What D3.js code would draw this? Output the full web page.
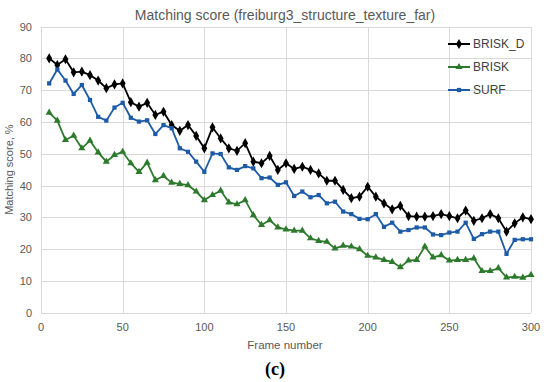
<!DOCTYPE html>
<html>
<head>
	<title>Matching score</title>
	<style type="text/css">

body {
	margin:0;
	background:#fff;
}

text {
	font-family: "Liberation Sans", Arial, sans-serif;
}

.grid line {
	stroke:#d9d9d9;
	stroke-width:1px;
	shape-rendering:crispEdges;
}

.tick-label {
	fill:#595959;
	font-size:11px;
}

.series path.line {
	fill:none;
	stroke-width:1.8px;
}

.legend text {
	fill:#404040;
	font-size:12px;
}

	</style>
</head>
<body>

<div id="chart"></div>

<script type="text/javascript" src="https://cdn.jsdelivr.net/npm/d3@7"></script>
<script type="text/javascript">

var frames = [5,10,15,20,25,30,35,40,45,50,55,60,65,70,75,80,85,90,95,100,
	105,110,115,120,125,130,135,140,145,150,155,160,165,170,175,180,185,190,195,200,
	205,210,215,220,225,230,235,240,245,250,255,260,265,270,275,280,285,290,295,300];

var brisk_d = [80.0,77.9,79.7,75.6,75.8,74.7,73.0,70.6,71.8,72.1,
	66.2,64.8,66.0,62.2,63.2,59.0,57.2,59.0,55.6,51.7,
	58.3,54.8,51.7,50.9,53.3,47.5,47.0,49.3,44.9,47.0,
	45.2,45.9,44.9,43.8,41.5,41.5,38.6,36.0,36.5,39.6,
	36.5,34.4,32.5,33.6,30.4,30.2,30.2,30.4,31.0,30.4,
	29.7,32.1,28.9,29.7,31.0,29.7,25.5,28.1,30.0,29.4];

var brisk = [62.9,60.4,54.3,55.7,51.7,54.1,50.4,47.5,49.6,50.6,
	47.0,44.3,47.2,41.7,43.0,40.9,40.5,40.1,38.1,35.4,
	37.0,38.4,34.7,34.1,35.4,30.7,27.6,29.1,26.8,26.2,
	25.8,25.8,23.4,22.6,22.3,20.2,21.1,20.8,20.0,17.9,
	17.4,16.6,16.0,14.3,16.4,16.6,20.8,17.4,18.1,16.4,
	16.6,16.6,17.1,13.1,13.1,14.0,11.1,11.3,11.0,11.9];

var surf = [72.1,76.5,73.0,68.8,71.6,66.9,61.6,60.4,64.5,66.0,
	61.3,60.1,60.5,56.2,59.0,58.0,51.7,50.6,47.5,44.3,
	50.1,49.9,45.7,44.9,46.1,45.4,42.3,42.5,40.2,41.0,
	36.7,38.1,36.3,37.0,34.4,34.9,31.8,31.0,29.5,29.4,
	31.0,27.0,28.3,25.5,26.0,26.8,26.8,24.6,24.4,25.2,
	25.5,28.3,23.2,24.7,25.5,25.5,18.5,22.9,23.1,23.1];

var x_ticks = [0,50,100,150,200,250,300];
var y_ticks = [0,10,20,30,40,50,60,70,80,90];

var series = [
	{name:"BRISK_D", values:brisk_d, color:"#000000", symbol:d3.symbolDiamond, size:30},
	{name:"BRISK", values:brisk, color:"#2d7a2d", symbol:d3.symbolTriangle, size:22},
	{name:"SURF", values:surf, color:"#1d5ba6", symbol:d3.symbolSquare, size:18}
];

var width = 550, height = 382;
var plot = {left:41, right:531, top:26.5, bottom:312.7};

var svg = d3.select("#chart").append("svg")
	.attr("width",width)
	.attr("height",height);

var x = d3.scaleLinear().domain([0,300]).range([plot.left,plot.right]);
var y = d3.scaleLinear().domain([0,90]).range([plot.bottom,plot.top]);

// grid
var grid = svg.append("g").attr("class","grid");

grid.selectAll(".hline")
	.data(y_ticks)
	.enter().append("line")
	.attr("class","hline")
	.attr("x1",plot.left)
	.attr("x2",plot.right)
	.attr("y1",function(d){ return Math.round(y(d))+0.5; })
	.attr("y2",function(d){ return Math.round(y(d))+0.5; });

grid.selectAll(".vline")
	.data(x_ticks)
	.enter().append("line")
	.attr("class","vline")
	.attr("y1",plot.top)
	.attr("y2",plot.bottom)
	.attr("x1",function(d){ return Math.round(x(d))+0.5; })
	.attr("x2",function(d){ return Math.round(x(d))+0.5; });

// tick labels
svg.selectAll(".ylabel")
	.data(y_ticks)
	.enter().append("text")
	.attr("class","tick-label")
	.attr("text-anchor","end")
	.attr("x",plot.left-9)
	.attr("y",function(d){ return y(d)+4; })
	.text(String);

svg.selectAll(".xlabel")
	.data(x_ticks)
	.enter().append("text")
	.attr("class","tick-label")
	.attr("text-anchor","middle")
	.attr("x",function(d){ return x(d); })
	.attr("y",plot.bottom+18)
	.text(String);

// titles
svg.append("text")
	.attr("x",285)
	.attr("y",20)
	.attr("text-anchor","middle")
	.style("font-size","14px")
	.style("fill","#595959")
	.text("Matching score (freiburg3_structure_texture_far)");

svg.append("text")
	.attr("x",285)
	.attr("y",349)
	.attr("text-anchor","middle")
	.style("font-size","11.5px")
	.style("fill","#595959")
	.text("Frame number");

svg.append("text")
	.attr("transform","translate(13,"+((plot.top+plot.bottom)/2)+") rotate(-90)")
	.attr("text-anchor","middle")
	.style("font-size","11px")
	.style("fill","#595959")
	.text("Matching score, %");

svg.append("text")
	.attr("x",275)
	.attr("y",375)
	.attr("text-anchor","middle")
	.style("font-family","'Liberation Serif', serif")
	.style("font-weight","bold")
	.style("font-size","18px")
	.style("fill","#000")
	.text("(c)");

// series
var line = d3.line()
	.x(function(d,i){ return x(frames[i]); })
	.y(function(d){ return y(d); });

var g = svg.selectAll(".series")
	.data(series)
	.enter().append("g")
	.attr("class","series");

g.append("path")
	.attr("class","line")
	.attr("stroke",function(d){ return d.color; })
	.attr("d",function(d){ return line(d.values); });

g.each(function(s){
	d3.select(this).selectAll(".marker")
		.data(s.values)
		.enter().append("path")
		.attr("class","marker")
		.attr("fill",s.color)
		.attr("transform",function(d,i){ return "translate("+x(frames[i])+","+y(d)+")"; })
		.attr("d",d3.symbol().type(s.symbol).size(s.size));
});

// legend
var legend = svg.append("g")
	.attr("class","legend")
	.attr("transform","translate(448,44)");

var legend_g = legend.selectAll(".legend_item")
	.data(series)
	.enter().append("g")
	.attr("class","legend_item")
	.attr("transform",function(d,i){ return "translate(0,"+(i*23)+")"; });

legend_g.append("line")
	.attr("x1",0)
	.attr("x2",22)
	.attr("stroke",function(d){ return d.color; })
	.attr("stroke-width",2);

legend_g.append("path")
	.attr("transform","translate(11,0)")
	.attr("fill",function(d){ return d.color; })
	.attr("d",function(d){ return d3.symbol().type(d.symbol).size(d.size)(); });

legend_g.append("text")
	.attr("x",25)
	.attr("y",4)
	.text(function(d){ return d.name; });

</script>
</body>
</html>
